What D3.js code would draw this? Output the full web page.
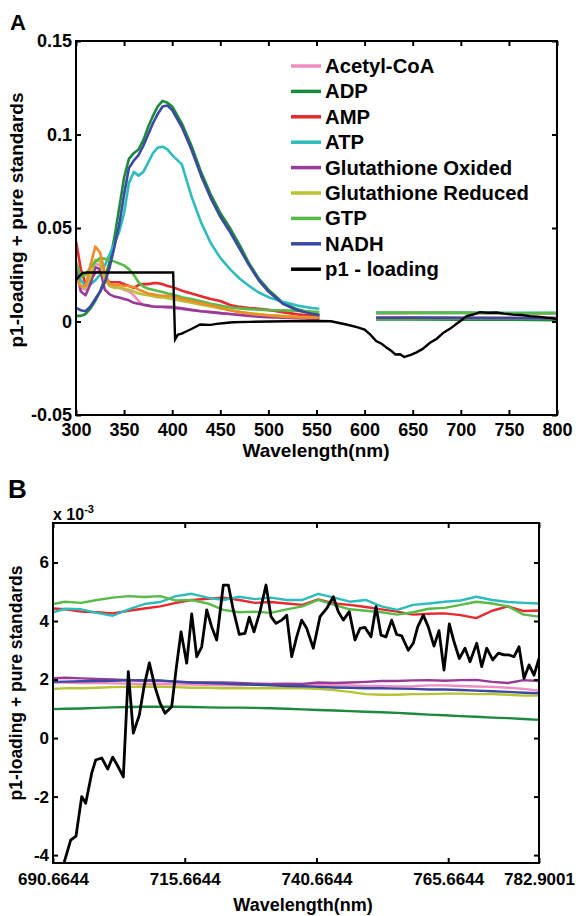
<!DOCTYPE html>
<html>
<head>
<meta charset="utf-8">
<script src="https://cdn.jsdelivr.net/npm/d3@7"></script>
<style>
body { margin: 0; background: #fff; }
text { font-family: "Liberation Sans", Arial, sans-serif; font-weight: bold; fill: #000; }
</style>
</head>
<body>
<script>
var names = ["Acetyl-CoA", "ADP", "AMP", "ATP", "Glutathione Oxided", "Glutathione Reduced", "GTP", "NADH", "p1 - loading"];

// panel A : standards (null = gap in the data 555-610 nm)
var waveA = [300,305,310,315,320,325,330,335,340,345,350,355,360,365,370,375,380,385,390,395,400,
             410,420,430,440,450,460,470,480,490,500,515,530,545,553,580,612,650,700,750,800];
var acetylA = [0.026,0.018,0.017,0.024,0.031,0.030,0.022,0.019,0.019,0.018,0.017,0.016,0.014,0.011,0.009,0.0085,0.008,0.0078,0.0076,0.0074,0.0072,
               0.0066,0.006,0.0055,0.005,0.0045,0.004,0.0036,0.0032,0.003,0.0028,0.0025,0.0022,0.002,0.002,null,0.0019,0.0019,0.0019,0.0018,0.0017];
var adpA = [0.003,0.003,0.004,0.007,0.011,0.016,0.023,0.032,0.045,0.061,0.077,0.087,0.090,0.092,0.097,0.104,0.110,0.115,0.118,0.117,0.115,
            0.106,0.094,0.080,0.068,0.058,0.050,0.041,0.031,0.023,0.017,0.010,0.0065,0.0045,0.0035,null,0.0011,0.0011,0.001,0.0009,0.0007];
var ampA = [0.043,0.028,0.020,0.022,0.026,0.027,0.023,0.021,0.021,0.021,0.020,0.019,0.018,0.0195,0.020,0.020,0.0205,0.0205,0.020,0.019,0.0185,
            0.0165,0.015,0.0135,0.012,0.011,0.0088,0.0078,0.0072,0.0068,0.0062,0.005,0.0038,0.0032,0.003,null,0.0045,0.0046,0.0047,0.0044,0.0044];
var atpA = [0.030,0.022,0.019,0.020,0.022,0.025,0.030,0.036,0.042,0.048,0.058,0.074,0.080,0.078,0.080,0.085,0.090,0.093,0.0935,0.092,0.089,
            0.084,0.067,0.053,0.042,0.034,0.028,0.023,0.019,0.0155,0.013,0.0105,0.0085,0.0072,0.0068,null,0.0046,0.0046,0.0046,0.0047,0.0046];
var gluOxA = [0.028,0.016,0.014,0.020,0.029,0.028,0.017,0.0145,0.0133,0.0128,0.012,0.0113,0.010,0.0095,0.009,0.0085,0.008,0.0079,0.0079,0.0078,0.0077,
              0.007,0.0062,0.0055,0.005,0.0045,0.004,0.0035,0.003,0.0026,0.0023,0.002,0.0017,0.0015,0.0015,null,0.002,0.0021,0.002,0.0019,0.002];
var gluRedA = [0.024,0.019,0.018,0.024,0.033,0.032,0.022,0.019,0.018,0.018,0.0175,0.017,0.016,0.015,0.0145,0.014,0.0135,0.013,0.0128,0.0125,0.012,
               0.011,0.010,0.009,0.008,0.007,0.006,0.0052,0.0045,0.004,0.0035,0.003,0.0025,0.0022,0.002,null,0.0017,0.0018,0.0017,0.0016,0.0015];
var gtpA = [0.032,0.024,0.025,0.029,0.032,0.034,0.0335,0.033,0.032,0.031,0.030,0.028,0.025,0.021,0.0187,0.0175,0.017,0.0163,0.0158,0.015,0.0146,
            0.013,0.012,0.0108,0.0095,0.0085,0.0075,0.007,0.0066,0.0063,0.0061,0.006,0.0057,0.0053,0.005,null,0.0048,0.0047,0.0046,0.0044,0.0045];
var nadhA = [0.0073,0.006,0.0055,0.008,0.012,0.016,0.021,0.029,0.040,0.052,0.068,0.082,0.086,0.089,0.094,0.100,0.106,0.111,0.115,0.1155,0.113,
             0.104,0.092,0.078,0.066,0.056,0.048,0.039,0.030,0.022,0.016,0.0095,0.006,0.0042,0.0033,null,0.002,0.002,0.0019,0.0018,0.0016];
// orange trace, no legend entry
var extraA = [0.0225,0.019,0.019,0.030,0.040,0.037,0.026,0.020,0.0195,0.0195,0.019,0.019,0.0185,0.017,0.016,0.015,0.0145,0.014,0.0138,0.0136,0.0135,
              0.012,0.011,0.0098,0.0085,0.0073,0.006,0.005,0.0042,0.0036,0.0032,0.0026,0.0022,0.002,0.002,null,null,null,null,null,null];

var p1WaveA = [300,303,307,312,330,360,390,401,403,406,410,415,420,429,440,446,455,463,480,500,520,553,565,581,592,600,606,612,618,623,628,632,
               637,641,644,648,654,660,668,675,682,689,696,701,706,712,720,728,737,745,754,763,772,780,789,795,800];
var p1A = [0.022,0.024,0.026,0.0262,0.0262,0.0262,0.0262,0.0262,-0.0096,-0.007,-0.0065,-0.0052,-0.004,-0.0016,-0.0018,-0.0013,-0.0008,-0.0004,-0.0002,0,0.0001,0.0003,
           0.0001,-0.0016,-0.003,-0.0043,-0.007,-0.0105,-0.012,-0.014,-0.0158,-0.0176,-0.0175,-0.019,-0.0185,-0.0178,-0.0165,-0.0148,-0.0114,-0.0092,-0.006,-0.0038,
           -0.0011,0.0008,0.0029,0.0036,0.005,0.0047,0.0048,0.0042,0.0037,0.0035,0.0029,0.0026,0.002,0.0018,0.0012];

// panel B : zoom 690-783 nm, values x 10^-3
var waveB = [690.6644,693,696,699,702,705,708,711,714,717,720,723,726,729,732,735,738,741,744,747,750,753,756,759,762,765,768,771,774,777,780,782.9001];
var acetylB = [1.9,1.9,1.88,1.88,1.87,1.86,1.85,1.84,1.84,1.83,1.82,1.8,1.8,1.82,1.84,1.82,1.83,1.82,1.8,1.8,1.78,1.78,1.76,1.77,1.8,1.8,1.78,1.76,1.75,1.72,1.68,1.62];
var adpB = [0.99,1.0,1.01,1.03,1.05,1.06,1.07,1.07,1.07,1.06,1.05,1.04,1.04,1.03,1.02,1.0,0.98,0.96,0.94,0.92,0.9,0.88,0.86,0.83,0.8,0.78,0.75,0.73,0.7,0.68,0.65,0.62];
var ampB = [4.43,4.4,4.32,4.3,4.26,4.35,4.43,4.5,4.62,4.72,4.76,4.8,4.72,4.62,4.65,4.6,4.55,4.74,4.6,4.55,4.48,4.4,4.32,4.22,4.25,4.26,4.2,4.1,4.35,4.5,4.34,4.36];
var atpB = [4.3,4.42,4.4,4.28,4.18,4.4,4.58,4.65,4.85,4.93,4.8,4.72,4.83,4.75,4.8,4.72,4.72,4.93,4.8,4.66,4.72,4.5,4.38,4.55,4.6,4.66,4.7,4.83,4.72,4.65,4.62,4.6];
var gluOxB = [2.05,2.06,2.04,2.02,2.0,1.98,1.96,1.95,1.93,1.9,1.9,1.9,1.88,1.86,1.85,1.86,1.85,1.9,1.88,1.9,1.92,1.95,1.95,1.97,1.98,1.96,1.98,1.99,1.92,1.88,1.98,1.95];
var gluRedB = [1.68,1.7,1.7,1.72,1.74,1.75,1.76,1.75,1.74,1.72,1.72,1.7,1.7,1.7,1.7,1.7,1.7,1.68,1.64,1.58,1.5,1.48,1.48,1.5,1.5,1.52,1.52,1.5,1.5,1.48,1.45,1.45];
var gtpB = [4.58,4.66,4.62,4.72,4.8,4.85,4.82,4.85,4.7,4.72,4.6,4.38,4.3,4.32,4.28,4.4,4.5,4.72,4.55,4.4,4.35,4.3,4.22,4.3,4.42,4.45,4.55,4.66,4.6,4.5,4.22,4.15];
var nadhB = [1.92,1.93,1.94,1.95,1.96,1.97,1.98,1.97,1.93,1.9,1.88,1.86,1.84,1.82,1.8,1.78,1.77,1.75,1.73,1.72,1.7,1.7,1.69,1.68,1.66,1.66,1.64,1.62,1.6,1.58,1.55,1.53];

var p1WaveB = [690.66,691.7,692.75,694.02,695.03,696.11,696.87,698.01,698.77,699.91,701.05,702.0,703.06,704.01,704.96,705.91,707.05,708.0,708.95,710.02,
               710.97,711.92,713.19,714.01,714.96,716.04,716.99,717.94,718.89,719.84,720.78,721.73,722.99,723.94,724.88,726.02,727.1,727.92,728.81,729.95,
               731.09,732.04,732.99,734.07,735.02,735.97,736.91,737.86,738.81,740.07,741.34,742.61,743.86,744.81,745.76,746.9,747.98,748.93,749.88,751.02,
               751.97,752.91,753.86,754.94,755.89,756.84,758.09,759.04,759.88,760.94,761.89,762.97,763.92,764.87,765.88,766.77,767.78,768.86,769.81,771.08,
               772.03,772.98,774.12,775.18,776.27,777.21,778.16,779.11,780.06,781.01,781.96,782.9];
var p1B = [-5.6,-4.9,-4.27,-3.49,-3.35,-2.0,-2.23,-1.2,-0.75,-0.68,-1.06,-0.65,-0.99,-1.33,2.27,0.17,0.79,1.81,2.57,1.75,
           1.2,0.85,1.07,2.32,3.63,2.56,4.24,2.78,3.12,4.38,3.8,3.35,5.23,5.23,4.38,3.54,3.58,4.13,3.63,4.32,
           5.23,4.15,3.92,4.03,4.2,2.78,3.46,4.03,3.75,3.07,4.15,4.43,4.83,4.32,4.03,4.32,3.35,3.75,3.78,3.46,
           4.49,3.52,3.46,4.03,3.54,3.49,3.0,3.24,3.8,4.2,3.8,3.14,3.67,2.32,3.9,3.29,2.72,3.07,2.61,3.24,
           2.44,3.07,2.67,2.9,2.84,2.84,2.78,3.12,2.04,2.5,2.15,2.72];

var colors = ["#f08cc0", "#1c8a3c", "#e8282c", "#2cbcbc", "#983a98", "#b8c232", "#58bb48", "#3a4aa2", "#000000"];
var orange = "#f08a2a";

var svg = d3.select("body").append("svg").attr("width", 576).attr("height", 916);

function zip(xs, ys) { return xs.map(function(d, i) { return [d, ys[i]]; }); }

// box with inward ticks on all sides
function frame(g, x, y, xTicks, yTicks, xFmt, yFmt, fs, xPad) {
	var x0 = x.range()[0], x1 = x.range()[1], y0 = y.range()[1], y1 = y.range()[0];
	g.append("g").attr("transform", "translate(0," + y1 + ")")
		.call(d3.axisBottom(x).tickValues(xTicks).tickFormat(xFmt).tickSize(-5).tickPadding(xPad));
	g.append("g").attr("transform", "translate(" + x0 + ",0)")
		.call(d3.axisLeft(y).tickValues(yTicks).tickFormat(yFmt).tickSize(-5).tickPadding(4));
	g.append("g").attr("transform", "translate(0," + y0 + ")")
		.call(d3.axisTop(x).tickValues(xTicks).tickFormat("").tickSize(-5));
	g.append("g").attr("transform", "translate(" + x1 + ",0)")
		.call(d3.axisRight(y).tickValues(yTicks).tickFormat("").tickSize(-5));
	g.selectAll(".domain").remove();
	g.selectAll(".tick line").attr("stroke", "#000").attr("stroke-width", 2);
	g.selectAll(".tick text").style("font-size", fs + "px").attr("fill", "#000");
	g.append("rect").attr("x", x0).attr("y", y0).attr("width", x1 - x0).attr("height", y1 - y0)
		.attr("fill", "none").attr("stroke", "#000").attr("stroke-width", 2);
}

function clip(id, x, y) {
	svg.append("clipPath").attr("id", id).append("rect")
		.attr("x", x.range()[0]).attr("y", y.range()[1])
		.attr("width", x.range()[1] - x.range()[0]).attr("height", y.range()[0] - y.range()[1]);
}

// ---------- panel A ----------
var xA = d3.scaleLinear().domain([300, 800]).range([76, 557]);
var yA = d3.scaleLinear().domain([-0.05, 0.15]).range([415, 41]);
clip("clipA", xA, yA);

var lineA = d3.line()
	.defined(function(d) { return d[1] != null; })
	.x(function(d) { return xA(d[0]); })
	.y(function(d) { return yA(d[1]); });

var stdA = [acetylA, adpA, ampA, atpA, gluOxA, gluRedA, gtpA, extraA, nadhA];
var stdColA = [colors[0], colors[1], colors[2], colors[3], colors[4], colors[5], colors[6], orange, colors[7]];

var plotA = svg.append("g").attr("clip-path", "url(#clipA)");
stdA.forEach(function(s, i) {
	plotA.append("path").attr("fill", "none").attr("stroke", stdColA[i]).attr("stroke-width", 2.6)
		.attr("stroke-linejoin", "round").attr("d", lineA(zip(waveA, s)));
});
plotA.append("path").attr("fill", "none").attr("stroke", "#000").attr("stroke-width", 2.4)
	.attr("d", lineA(zip(p1WaveA, p1A)));

frame(svg.append("g"), xA, yA, d3.range(300, 801, 50), [-0.05, 0, 0.05, 0.1, 0.15],
	function(d) { return String(d); }, function(d) { return String(+d.toFixed(2)); }, 18, 8);

// legend
var leg = svg.append("g");
names.forEach(function(n, i) {
	var ly = 66 + i * 25.4;
	leg.append("line").attr("x1", 291).attr("x2", 321).attr("y1", ly).attr("y2", ly)
		.attr("stroke", colors[i]).attr("stroke-width", 3.5);
	leg.append("text").attr("x", 325).attr("y", ly + 7).style("font-size", "20.3px").text(n);
});

svg.append("text").attr("x", 316).attr("y", 457).attr("text-anchor", "middle").style("font-size", "19px").text("Wavelength(nm)");
svg.append("text").attr("transform", "translate(23,220) rotate(-90)").attr("text-anchor", "middle")
	.style("font-size", "19px").text("p1-loading + pure standards");
svg.append("text").attr("x", 10).attr("y", 30).style("font-size", "22px").text("A");

// ---------- panel B ----------
var xB = d3.scaleLinear().domain([690.6644, 782.9001]).range([53, 539]);
var yB = d3.scaleLinear().domain([-4.27, 7.35]).range([863, 523]);
clip("clipB", xB, yB);

var lineB = d3.line()
	.x(function(d) { return xB(d[0]); })
	.y(function(d) { return yB(d[1]); });

var stdB = [acetylB, adpB, ampB, atpB, gluOxB, gluRedB, gtpB, nadhB];
var plotB = svg.append("g").attr("clip-path", "url(#clipB)");
stdB.forEach(function(s, i) {
	plotB.append("path").attr("fill", "none").attr("stroke", colors[i]).attr("stroke-width", 2.4)
		.attr("stroke-linejoin", "round").attr("d", lineB(zip(waveB, s)));
});
plotB.append("path").attr("fill", "none").attr("stroke", "#000").attr("stroke-width", 2.8)
	.attr("stroke-linejoin", "round").attr("d", lineB(zip(p1WaveB, p1B)));

frame(svg.append("g"), xB, yB, [690.6644, 715.6644, 740.6644, 765.6644, 782.9001], [-4, -2, 0, 2, 4, 6],
	d3.format(".4f"), function(d) { return String(d); }, 17, 10);

var expo = svg.append("text").attr("x", 53).attr("y", 520).style("font-size", "16px");
expo.append("tspan").text("x 10");
expo.append("tspan").attr("dy", -7).style("font-size", "11px").text("-3");

svg.append("text").attr("x", 303).attr("y", 911).attr("text-anchor", "middle").style("font-size", "18px").text("Wavelength(nm)");
svg.append("text").attr("transform", "translate(22,683) rotate(-90)").attr("text-anchor", "middle")
	.style("font-size", "17.5px").text("p1-loading + pure standards");
svg.append("text").attr("x", 8).attr("y", 498).style("font-size", "26px").text("B");
</script>
</body>
</html>
